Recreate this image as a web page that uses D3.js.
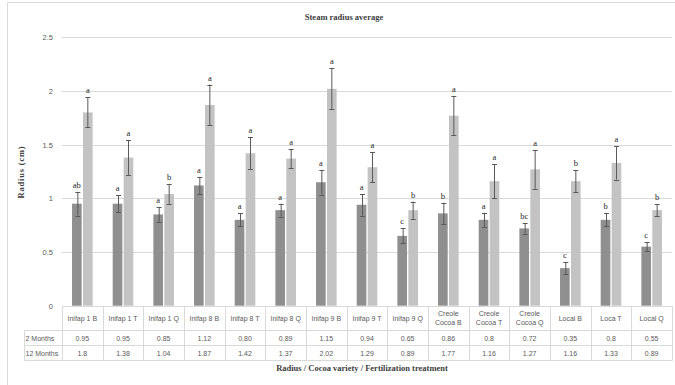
<!DOCTYPE html>
<html>
<head>
<meta charset="utf-8">
<script src="https://cdn.jsdelivr.net/npm/d3@7"></script>
<style>
  html, body { margin: 0; padding: 0; background: #fff; }
  svg { display: block; }
</style>
</head>
<body>
<svg id="chart" width="675" height="385"></svg>
<script>
// Cocoa variety / fertilization treatment combinations
const categories = [
  "Inifap 1 B", "Inifap 1 T", "Inifap 1 Q", "Inifap 8 B", "Inifap 8 T",
  "Inifap 8 Q", "Inifap 9 B", "Inifap 9 T", "Inifap 9 Q", "Creole Cocoa B",
  "Creole Cocoa T", "Creole Cocoa Q", "Local B", "Loca T", "Local Q"
];
const seriesNames = ["2 Months", "12 Months"];

// Mean stem radius (cm), as printed in the data table
const months2 = ["0.95", "0.95", "0.85", "1.12", "0.80", "0.89", "1.15", "0.94",
                 "0.65", "0.86", "0.8", "0.72", "0.35", "0.8", "0.55"];
const months12 = ["1.8", "1.38", "1.04", "1.87", "1.42", "1.37", "2.02", "1.29",
                  "0.89", "1.77", "1.16", "1.27", "1.16", "1.33", "0.89"];

// Standard error of each mean (cm)
const err2 = [0.11, 0.08, 0.07, 0.08, 0.06, 0.06, 0.115, 0.10, 0.07, 0.10,
              0.065, 0.05, 0.055, 0.06, 0.04];
const err12 = [0.14, 0.16, 0.09, 0.19, 0.15, 0.09, 0.19, 0.14, 0.08, 0.18,
               0.16, 0.18, 0.105, 0.155, 0.055];

// Significance letters
const sig2 = ["ab", "a", "a", "a", "a", "a", "a", "a", "c", "b", "a", "bc", "c", "b", "c"];
const sig12 = ["a", "a", "b", "a", "a", "a", "a", "a", "b", "a", "a", "a", "b", "a", "b"];

const yTicks = [0, 0.5, 1, 1.5, 2, 2.5];

const seriesColors = ["#8f8f8f", "#c3c3c3"];

const rows = categories.map((c, i) => ({
  cat: c,
  series: [
    { key: seriesNames[0], text: months2[i], value: +months2[i], err: err2[i], sig: sig2[i] },
    { key: seriesNames[1], text: months12[i], value: +months12[i], err: err12[i], sig: sig12[i] }
  ]
}));

const svg = d3.select("#chart");
const plot = { left: 62, right: 672, top: 37.3, bottom: 305.7 };
const serif = "'Liberation Serif', 'Times New Roman', serif";
const sans = "'Liberation Sans', Arial, sans-serif";

// Outer chart frame (partly outside the view)
svg.append("rect")
  .attr("x", 7.5).attr("y", 2.5).attr("width", 720).attr("height", 420)
  .attr("fill", "none").attr("stroke", "#d9d9d9").attr("stroke-width", 1);

const x = d3.scaleBand().domain(categories).range([plot.left, plot.right]).padding(0);
const xSub = d3.scaleBand().domain(seriesNames).range([-10.3, 10.3]).paddingInner(0.12);
const y = d3.scaleLinear().domain([0, 2.5]).range([plot.bottom, plot.top]);

// Horizontal gridlines
svg.append("g")
  .selectAll("line")
  .data(yTicks.filter(t => t > 0))
  .join("line")
  .attr("x1", plot.left).attr("x2", plot.right)
  .attr("y1", d => Math.round(y(d)) + 0.5).attr("y2", d => Math.round(y(d)) + 0.5)
  .attr("stroke", "#d9d9d9").attr("stroke-width", 1);

// Y axis tick labels
const yAxis = d3.axisLeft(y).tickValues(yTicks).tickSize(0).tickPadding(0)
  .tickFormat(d3.format("~g"));
const yg = svg.append("g").attr("transform", "translate(53,0)").call(yAxis);
yg.select(".domain").remove();
yg.selectAll("text")
  .attr("font-family", sans).attr("font-size", 7.5).attr("fill", "#595959");

// Bars
const groups = svg.append("g")
  .selectAll("g")
  .data(rows)
  .join("g")
  .attr("transform", d => `translate(${x(d.cat) + x.bandwidth() / 2},0)`);

groups.selectAll("rect")
  .data(d => d.series)
  .join("rect")
  .attr("x", d => xSub(d.key))
  .attr("width", xSub.bandwidth())
  .attr("y", d => y(d.value))
  .attr("height", d => y(0) - y(d.value))
  .attr("fill", (d, i) => seriesColors[i]);

// Error bars
const eb = groups.selectAll("g.err")
  .data(d => d.series)
  .join("g")
  .attr("class", "err")
  .attr("transform", d => `translate(${Math.round(xSub(d.key) + xSub.bandwidth() / 2) + 0.5},0)`)
  .attr("stroke", "#595959").attr("stroke-width", 1);
eb.append("line")
  .attr("y1", d => y(d.value + d.err)).attr("y2", d => y(d.value - d.err));
eb.append("line")
  .attr("x1", -2.5).attr("x2", 2.5)
  .attr("y1", d => Math.round(y(d.value + d.err)) + 0.5).attr("y2", d => Math.round(y(d.value + d.err)) + 0.5);
eb.append("line")
  .attr("x1", -2.5).attr("x2", 2.5)
  .attr("y1", d => Math.round(y(d.value - d.err)) + 0.5).attr("y2", d => Math.round(y(d.value - d.err)) + 0.5);

// Significance letters
groups.selectAll("text.sig")
  .data(d => d.series)
  .join("text")
  .attr("class", "sig")
  .attr("x", d => xSub(d.key) + xSub.bandwidth() / 2)
  .attr("y", d => y(d.value + d.err) - 4)
  .attr("text-anchor", "middle")
  .attr("font-family", serif).attr("font-size", 8.5).attr("fill", "#262626")
  .text(d => d.sig);

// Data table below the plot
const table = svg.append("g").attr("stroke", "#d9d9d9").attr("stroke-width", 1);
const rowY = [plot.bottom, 330.5, 345.5, 360.5];
const tableLeft = 24.5;
table.append("line").attr("x1", plot.left).attr("x2", plot.right)
  .attr("y1", 306.5).attr("y2", 306.5);
[1, 2, 3].forEach(k => {
  table.append("line").attr("x1", tableLeft).attr("x2", plot.right)
    .attr("y1", rowY[k]).attr("y2", rowY[k]);
});
table.append("line").attr("x1", tableLeft).attr("x2", tableLeft)
  .attr("y1", rowY[1]).attr("y2", rowY[3]);
categories.concat([null]).forEach((c, i) => {
  const xx = c === null ? plot.right : x(c);
  table.append("line")
    .attr("x1", Math.round(xx) + 0.5).attr("x2", Math.round(xx) + 0.5)
    .attr("y1", 306).attr("y2", rowY[3]);
});

// Category headers (long names wrap onto two lines)
const headers = svg.append("g")
  .attr("font-family", sans).attr("font-size", 7).attr("fill", "#595959")
  .attr("text-anchor", "middle");
categories.forEach(c => {
  const cx = x(c) + x.bandwidth() / 2;
  if (c.startsWith("Creole")) {
    const parts = c.split(" ");
    const lines = [parts[0], parts.slice(1).join(" ")];
    lines.forEach((ln, j) => {
      headers.append("text").attr("x", cx).attr("y", 315.5 + j * 9.5).text(ln);
    });
  } else {
    headers.append("text").attr("x", cx).attr("y", 320.5).text(c);
  }
});

// Series rows
const rowText = svg.append("g")
  .attr("font-family", sans).attr("font-size", 7).attr("fill", "#595959");
rows.forEach(r => {
  r.series.forEach((s, j) => {
    rowText.append("text")
      .attr("x", x(r.cat) + x.bandwidth() / 2)
      .attr("y", rowY[j + 1] + 10.5)
      .attr("text-anchor", "middle")
      .text(s.text);
  });
});
seriesNames.forEach((n, j) => {
  rowText.append("text").attr("x", 25.5).attr("y", rowY[j + 1] + 10.5).text(n);
});

// Titles
svg.append("text")
  .attr("x", 344).attr("y", 20)
  .attr("text-anchor", "middle")
  .attr("font-family", serif).attr("font-size", 8.5).attr("font-weight", "bold")
  .attr("fill", "#404040")
  .text("Steam radius average");

svg.append("text")
  .attr("transform", "translate(24,172) rotate(-90)")
  .attr("text-anchor", "middle")
  .attr("font-family", serif).attr("font-size", 8.5).attr("font-weight", "bold")
  .attr("letter-spacing", 0.8)
  .attr("fill", "#404040")
  .text("Radius (cm)");

svg.append("text")
  .attr("x", 362).attr("y", 371)
  .attr("text-anchor", "middle")
  .attr("font-family", serif).attr("font-size", 8.5).attr("font-weight", "bold")
  .attr("fill", "#404040")
  .text("Radius / Cocoa variety / Fertilization treatment");
</script>
</body>
</html>
